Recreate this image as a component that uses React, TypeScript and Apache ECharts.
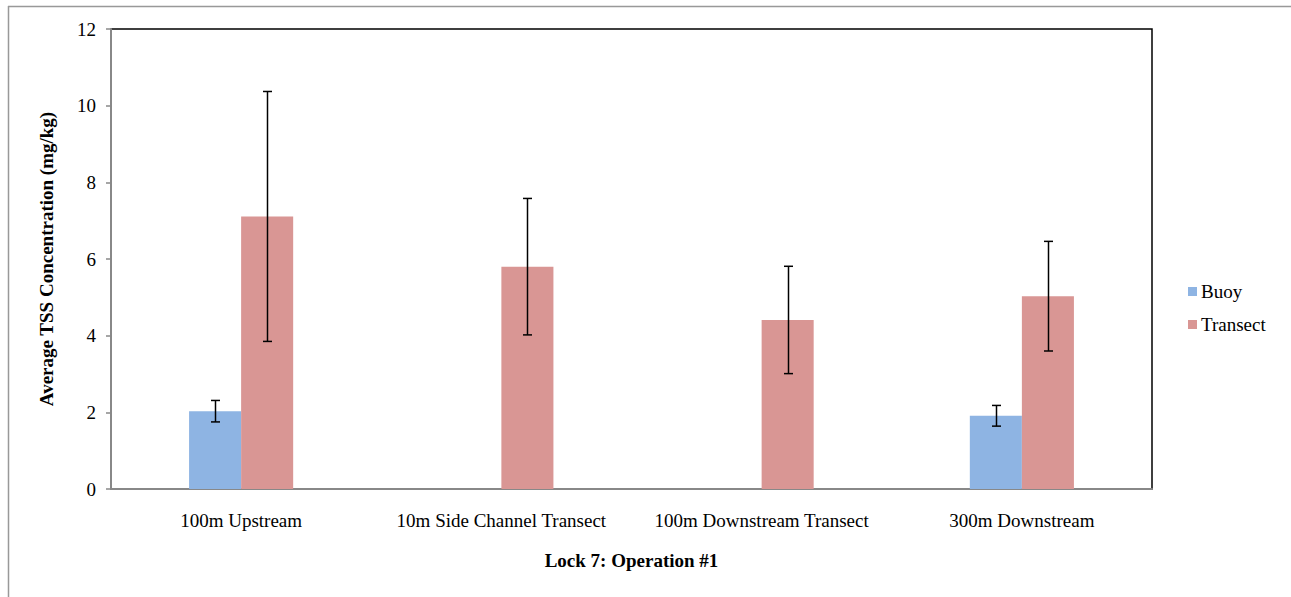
import React, { useEffect, useRef } from "react";
import * as echarts from "echarts";

const categories = ["100m Upstream", "10m Side Channel Transect", "100m Downstream Transect", "300m Downstream"];
const buoyValues: (number | null)[] = [2.03, null, null, 1.91];
const buoyErrors: (number | null)[] = [0.28, null, null, 0.27];
const transectValues: number[] = [7.11, 5.8, 4.41, 5.03];
const transectErrors: number[] = [3.26, 1.78, 1.4, 1.43];
const yTicks = { min: 0, max: 12, interval: 2 };

const FONT = "'Liberation Serif', 'Times New Roman', serif";

function errorSeries(name: string, values: (number | null)[], errors: (number | null)[], side: number) {
  const data: any[] = [];
  values.forEach((v, i) => {
    const e = errors[i];
    if (v != null && e != null) data.push([i, v - e, v + e]);
  });
  return {
    type: "custom",
    name: name + " error",
    data,
    z: 10,
    silent: true,
    renderItem: (params: any, api: any) => {
      const idx = api.value(0);
      const lo = api.coord([idx, api.value(1)]);
      const hi = api.coord([idx, api.value(2)]);
      const band = api.size([1, 0])[0];
      const bw = band * 0.2;
      const x = Math.round(lo[0] + side * bw / 2) + 0.5;
      const cap = 4.5;
      const style = { stroke: "#000", lineWidth: 1.5 };
      return {
        type: "group",
        children: [
          { type: "line", shape: { x1: x, y1: hi[1], x2: x, y2: lo[1] }, style },
          { type: "line", shape: { x1: x - cap, y1: hi[1], x2: x + cap, y2: hi[1] }, style },
          { type: "line", shape: { x1: x - cap, y1: lo[1], x2: x + cap, y2: lo[1] }, style },
        ],
      };
    },
  };
}

export default function App() {
  const ref = useRef<HTMLDivElement>(null);
  useEffect(() => {
    if (!ref.current) return;
    const chart = echarts.init(ref.current, null, { renderer: "svg" });
    chart.setOption({
      animation: false,
      backgroundColor: "#fff",
      textStyle: { fontFamily: FONT },
      grid: { left: 111, right: 139, top: 29, bottom: 108, show: true, borderColor: "#000", borderWidth: 1.5, backgroundColor: "transparent" },
      legend: {
        orient: "vertical",
        left: 1183,
        top: 277,
        itemWidth: 9,
        itemHeight: 9,
        itemGap: 14,
        icon: "rect",
        data: ["Buoy", "Transect"],
        textStyle: { fontFamily: FONT, fontSize: 19, color: "#000", padding: [0, 0, 0, -1] },
      },
      xAxis: {
        type: "category",
        data: categories,
        axisLine: { lineStyle: { color: "#888", width: 2 } },
        axisTick: { show: false },
        axisLabel: { color: "#000", fontFamily: FONT, fontSize: 19, margin: 22, interval: 0, hideOverlap: false },
        name: "Lock 7: Operation #1",
        nameLocation: "middle",
        nameGap: 62,
        nameTextStyle: { fontFamily: FONT, fontSize: 19, fontWeight: "bold", color: "#000" },
      },
      yAxis: {
        type: "value",
        min: yTicks.min,
        max: yTicks.max,
        interval: yTicks.interval,
        splitLine: { show: false },
        axisLine: { show: true, lineStyle: { color: "#888", width: 2 } },
        axisTick: { show: true, length: 5, lineStyle: { color: "#888", width: 1.5 } },
        axisLabel: { color: "#000", fontFamily: FONT, fontSize: 19, margin: 15 },
        name: "Average TSS Concentration (mg/kg)",
        nameLocation: "middle",
        nameGap: 55,
        nameTextStyle: { fontFamily: FONT, fontSize: 19, fontWeight: "bold", color: "#000" },
      },
      graphic: [
        { type: "line", shape: { x1: 8, y1: 6.5, x2: 1291, y2: 6.5 }, style: { stroke: "#999", lineWidth: 1.5 } },
        { type: "line", shape: { x1: 8.5, y1: 6, x2: 8.5, y2: 597 }, style: { stroke: "#999", lineWidth: 1.5 } },
      ],
      series: [
        {
          name: "Buoy",
          type: "bar",
          data: buoyValues,
          barWidth: "20%",
          barGap: "0%",
          itemStyle: { color: "#8EB4E3" },
        },
        {
          name: "Transect",
          type: "bar",
          data: transectValues,
          barWidth: "20%",
          barGap: "0%",
          itemStyle: { color: "#D99694" },
        },
        errorSeries("Buoy", buoyValues, buoyErrors, -1),
        errorSeries("Transect", transectValues, transectErrors, 1),
      ],
    });
    return () => chart.dispose();
  }, []);
  return <div ref={ref} style={{ position: "absolute", left: 0, top: 0, width: 1291, height: 597 }} />;
}
